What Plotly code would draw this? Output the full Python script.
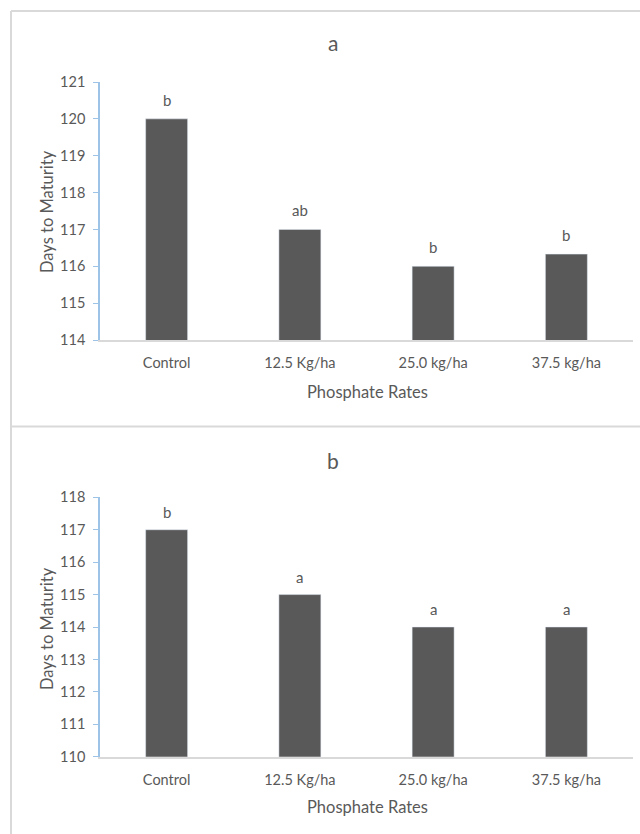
import plotly.graph_objects as go

# Days to maturity under different phosphate rates, two trials (a and b)
categories = ["Control", "12.5 Kg/ha", "25.0 kg/ha", "37.5 kg/ha"]
days_a = [120, 117, 116, 116.33]
letters_a = ["b", "ab", "b", "b"]
days_b = [117, 115, 114, 114]
letters_b = ["b", "a", "a", "a"]
range_a = [114, 121]
range_b = [110, 118]

W, H = 640, 834
MT, MB = 9, 10   # top / bottom margins of the plotting area
PH = H - MT - MB
FONT = "Lato, Open Sans, sans-serif"
TXT = "#595959"
BAR = "#595959"
AXBLUE = "#9dc3e6"
GRID = "#d9d9d9"


def px_x(x):
    return x / W


def px_y(y):
    # page pixel row -> paper coordinate
    return 1 - (y - MT) / PH


fig = go.Figure()

fig.add_trace(go.Bar(x=categories, y=days_a, marker_color=BAR, xaxis="x", yaxis="y",
                     showlegend=False, hoverinfo="skip"))
fig.add_trace(go.Bar(x=categories, y=days_b, marker_color=BAR, xaxis="x2", yaxis="y2",
                     showlegend=False, hoverinfo="skip"))

xcommon = dict(
    showline=True, linecolor=GRID, linewidth=1.5, ticks="", showgrid=False,
    tickfont=dict(family=FONT, size=14.5, color=TXT), ticklabelstandoff=9,
    fixedrange=True,
)
ycommon = dict(
    showline=True, linecolor=AXBLUE, linewidth=1.5, ticks="outside", ticklen=5,
    tickcolor=AXBLUE, tickwidth=1, showgrid=False, dtick=1,
    tickfont=dict(family=FONT, size=14.5, color=TXT), ticklabelstandoff=5,
    fixedrange=True,
)

fig.update_layout(
    width=W, height=H,
    margin=dict(l=0, r=0, t=MT, b=MB),
    paper_bgcolor="white", plot_bgcolor="white",
    bargap=0.685,
    xaxis=dict(domain=[px_x(100), px_x(633)], anchor="y", **xcommon),
    yaxis=dict(domain=[px_y(340), px_y(82)], range=range_a, anchor="x", **ycommon),
    xaxis2=dict(domain=[px_x(100), px_x(633)], anchor="y2", **xcommon),
    yaxis2=dict(domain=[px_y(756.7), px_y(497.3)], range=range_b, anchor="x2", **ycommon),
)

annotations = []
for cat, v, t in zip(categories, days_a, letters_a):
    annotations.append(dict(x=cat, y=v, xref="x", yref="y", text=t, showarrow=False,
                            yanchor="bottom", yshift=8,
                            font=dict(family=FONT, size=15, color=TXT)))
for cat, v, t in zip(categories, days_b, letters_b):
    annotations.append(dict(x=cat, y=v, xref="x2", yref="y2", text=t, showarrow=False,
                            yanchor="bottom", yshift=7,
                            font=dict(family=FONT, size=15, color=TXT)))

# panel titles and axis titles
for label, ty, xty, yty in [("a", 43, 392, 212), ("b", 460, 807, 629)]:
    annotations.append(dict(x=px_x(333), y=px_y(ty), xref="paper", yref="paper", text=label,
                            showarrow=False, xanchor="center", yanchor="middle",
                            font=dict(family=FONT, size=21, color=TXT)))
    annotations.append(dict(x=px_x(367), y=px_y(xty), xref="paper", yref="paper",
                            text="Phosphate Rates", showarrow=False, xanchor="center",
                            yanchor="middle", font=dict(family=FONT, size=16.5, color=TXT)))
    annotations.append(dict(x=px_x(47), y=px_y(yty), xref="paper", yref="paper",
                            text="Days to Maturity", showarrow=False, textangle=-90,
                            xanchor="center", yanchor="middle",
                            font=dict(family=FONT, size=16.5, color=TXT)))

fig.update_layout(annotations=annotations)

# panel frames
shapes = [
    dict(type="line", xref="paper", yref="paper", x0=px_x(11), x1=1, y0=px_y(11), y1=px_y(11),
         line=dict(color=GRID, width=2)),
    dict(type="line", xref="paper", yref="paper", x0=px_x(11), x1=px_x(11), y0=px_y(834), y1=px_y(11),
         line=dict(color=GRID, width=2)),
    dict(type="line", xref="paper", yref="paper", x0=px_x(11), x1=1, y0=px_y(426.5), y1=px_y(426.5),
         line=dict(color=GRID, width=2)),
]
fig.update_layout(shapes=shapes)

fig.write_html("out.html", config={"displayModeBar": False})
